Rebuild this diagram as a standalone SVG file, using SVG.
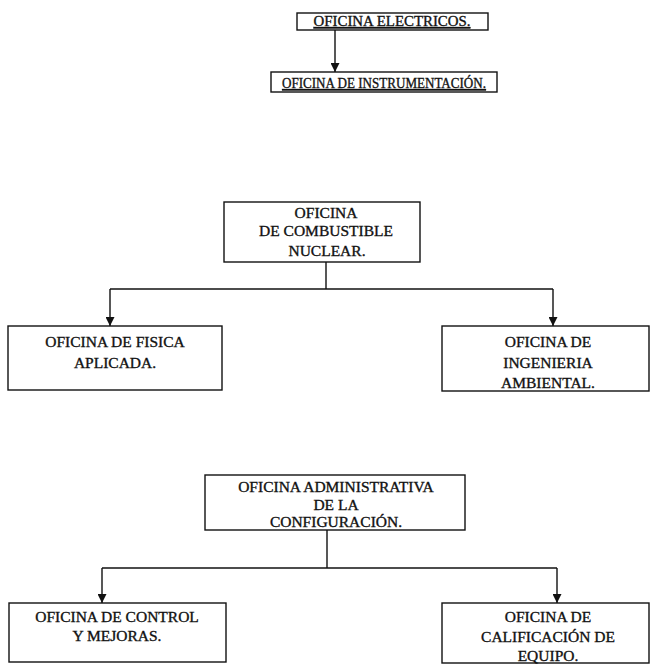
<svg xmlns="http://www.w3.org/2000/svg" width="652" height="665" viewBox="0 0 652 665">
  <style>
    .box { fill: none; stroke: #111; stroke-width: 1.4; }
    .lbl { font-family: "Liberation Serif", "Times New Roman", serif; font-size: 15.5px; fill: #111; stroke: #111; stroke-width: 0.35; text-anchor: middle; }
    .ul { text-decoration: underline; }
    .con { fill: none; stroke: #111; stroke-width: 1.4; }
  </style>
  <defs>
    <marker id="arr" viewBox="0 0 10 10" refX="10" refY="5" markerWidth="10" markerHeight="9" markerUnits="userSpaceOnUse" orient="auto">
      <path d="M0,0 L10,5 L0,10 z" fill="#111"/>
    </marker>
  </defs>
  <rect width="652" height="665" fill="#fff"/>

  <g id="connectors">
    <path class="con" d="M335,30 V72" marker-end="url(#arr)"/>
    <path class="con" d="M326,262 V289"/>
    <path class="con" d="M110,289 H553"/>
    <path class="con" d="M110,289 V326" marker-end="url(#arr)"/>
    <path class="con" d="M553,289 V326" marker-end="url(#arr)"/>
    <path class="con" d="M327,530 V568"/>
    <path class="con" d="M102,568 H557"/>
    <path class="con" d="M102,568 V603" marker-end="url(#arr)"/>
    <path class="con" d="M557,568 V603" marker-end="url(#arr)"/>
  </g>

  <g id="oficina-electricos">
    <rect class="box" x="297" y="13" width="191" height="17"/>
    <text class="lbl ul" x="392" y="26" textLength="157" lengthAdjust="spacingAndGlyphs">OFICINA ELECTRICOS.</text>
  </g>

  <g id="oficina-instrumentacion">
    <rect class="box" x="271" y="72" width="226" height="20"/>
    <text class="lbl ul" x="384" y="88" textLength="204" lengthAdjust="spacingAndGlyphs">OFICINA DE INSTRUMENTACIÓN.</text>
  </g>

  <g id="oficina-combustible">
    <rect class="box" x="224" y="202" width="196" height="60"/>
    <text class="lbl" x="326" y="218">OFICINA</text>
    <text class="lbl" x="326" y="236">DE COMBUSTIBLE</text>
    <text class="lbl" x="327" y="256">NUCLEAR.</text>
  </g>

  <g id="oficina-fisica">
    <rect class="box" x="8" y="326" width="214" height="64"/>
    <text class="lbl" x="115" y="347">OFICINA DE FISICA</text>
    <text class="lbl" x="115" y="368">APLICADA.</text>
  </g>

  <g id="oficina-ambiental">
    <rect class="box" x="442" y="326" width="207" height="65"/>
    <text class="lbl" x="548" y="347">OFICINA DE</text>
    <text class="lbl" x="548" y="368">INGENIERIA</text>
    <text class="lbl" x="548" y="388">AMBIENTAL.</text>
  </g>

  <g id="oficina-administrativa">
    <rect class="box" x="205" y="475" width="260" height="55"/>
    <text class="lbl" x="336" y="492">OFICINA ADMINISTRATIVA</text>
    <text class="lbl" x="336" y="510">DE LA</text>
    <text class="lbl" x="336" y="527">CONFIGURACIÓN.</text>
  </g>

  <g id="oficina-control">
    <rect class="box" x="9" y="603" width="217" height="59"/>
    <text class="lbl" x="117" y="622">OFICINA DE CONTROL</text>
    <text class="lbl" x="117" y="641">Y MEJORAS.</text>
  </g>

  <g id="oficina-calificacion">
    <rect class="box" x="442" y="603" width="207" height="60"/>
    <text class="lbl" x="548" y="622">OFICINA DE</text>
    <text class="lbl" x="548" y="642">CALIFICACIÓN DE</text>
    <text class="lbl" x="548" y="661">EQUIPO.</text>
  </g>
</svg>
